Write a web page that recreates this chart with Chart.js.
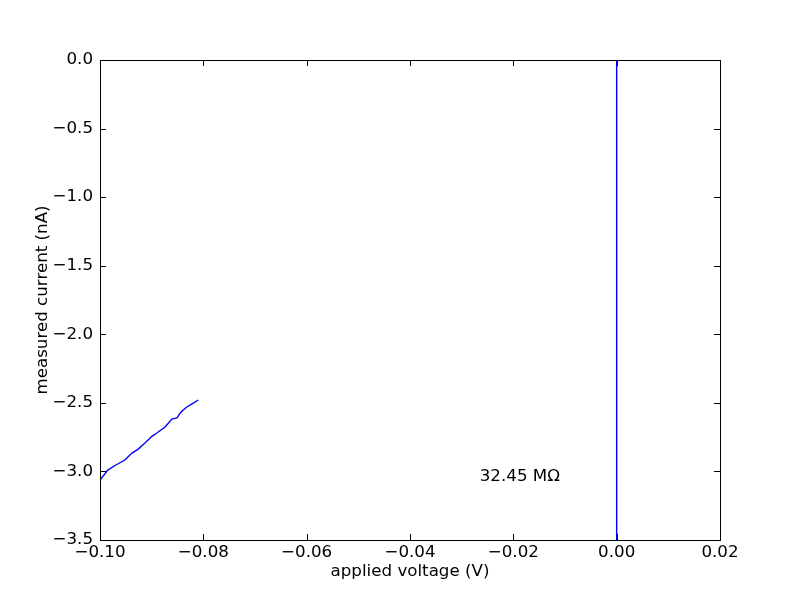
<!DOCTYPE html>
<html>
<head>
<meta charset="utf-8">
<script src="https://cdn.jsdelivr.net/npm/chart.js@4"></script>
<style>
  html, body { margin: 0; padding: 0; background: #fff; }
  #wrap { width: 800px; height: 600px; }
</style>
</head>
<body>
<div id="wrap"><canvas id="ivChart" width="800" height="600"></canvas></div>
<script>
'use strict';

// sweep (V, nA)
const sweepVoltage = [-0.1000, -0.0985, -0.0970, -0.0952, -0.0938, -0.0926, -0.0913,
  -0.0899, -0.0890, -0.0874, -0.0861, -0.0851, -0.0846, -0.0841, -0.0832, -0.0821, -0.0810];
const sweepCurrent = [-3.063, -2.990, -2.955, -2.917, -2.866, -2.837, -2.793,
  -2.742, -2.720, -2.676, -2.618, -2.610, -2.580, -2.559, -2.530, -2.505, -2.479];

// vertical trace at zero volts
const zeroVoltage = [0.0, 0.0];
const zeroCurrent = [0.0, -3.5];

const xTicks = [-0.10, -0.08, -0.06, -0.04, -0.02, 0.00, 0.02];
const yTicks = [0.0, -0.5, -1.0, -1.5, -2.0, -2.5, -3.0, -3.5];

const resistanceLabel = '32.45 MΩ';
const labelAt = { x: -0.0265, y: -3.07 };

const FONT = 'DejaVu Sans';
const FONT_SIZE = 16.7;

const toPoints = (xs, ys) => xs.map((x, i) => ({ x: x, y: ys[i] }));
const withMinus = (s) => s.replace('-', '\u2212');

// box with inward ticks on all four sides, plus the text label
const framePlugin = {
  id: 'frame',
  afterDatasetsDraw(chart) {
    const { ctx, chartArea: a, scales } = chart;
    const len = 6;
    ctx.save();
    ctx.strokeStyle = '#000';
    ctx.lineWidth = 1;
    ctx.beginPath();
    xTicks.forEach((v) => {
      const px = Math.round(scales.x.getPixelForValue(v)) + 0.5;
      ctx.moveTo(px, a.bottom); ctx.lineTo(px, a.bottom - len);
      ctx.moveTo(px, a.top); ctx.lineTo(px, a.top + len);
    });
    yTicks.forEach((v) => {
      const py = Math.round(scales.y.getPixelForValue(v)) + 0.5;
      ctx.moveTo(a.left, py); ctx.lineTo(a.left + len, py);
      ctx.moveTo(a.right, py); ctx.lineTo(a.right - len, py);
    });
    ctx.stroke();
    ctx.strokeRect(Math.round(a.left) + 0.5, Math.round(a.top) + 0.5,
      Math.round(a.right - a.left), Math.round(a.bottom - a.top));

    ctx.fillStyle = '#000';
    ctx.font = FONT_SIZE + 'px "' + FONT + '"';
    ctx.textAlign = 'left';
    ctx.textBaseline = 'alphabetic';
    ctx.fillText(resistanceLabel, scales.x.getPixelForValue(labelAt.x),
      scales.y.getPixelForValue(labelAt.y));
    ctx.restore();
  }
};

const ctx = document.getElementById('ivChart').getContext('2d');

const ivChart = new Chart(ctx, {
  type: 'scatter',
  data: {
    datasets: [{
      data: toPoints(sweepVoltage, sweepCurrent),
      showLine: true,
      borderColor: '#0000ff',
      borderWidth: 1.4,
      pointRadius: 0,
      tension: 0
    }, {
      data: toPoints(zeroVoltage, zeroCurrent),
      showLine: true,
      borderColor: '#0000ff',
      borderWidth: 1.4,
      pointRadius: 0
    }]
  },
  options: {
    responsive: false,
    animation: false,
    events: [],
    layout: { padding: { top: 60, right: 80, left: 0, bottom: 0 } },
    plugins: {
      legend: { display: false },
      tooltip: { enabled: false }
    },
    scales: {
      x: {
        type: 'linear',
        min: -0.10,
        max: 0.02,
        afterFit: (scale) => { scale.height = 60; },
        afterBuildTicks: (scale) => { scale.ticks = xTicks.map((v) => ({ value: v })); },
        grid: { display: false, drawTicks: false },
        border: { display: false },
        ticks: {
          padding: 3,
          color: '#000',
          font: { family: FONT, size: FONT_SIZE },
          maxRotation: 0,
          callback: (v) => withMinus(v.toFixed(2))
        },
        title: {
          display: true,
          text: 'applied voltage (V)',
          color: '#000',
          font: { family: FONT, size: FONT_SIZE },
          padding: { top: 0, bottom: 18 }
        }
      },
      y: {
        type: 'linear',
        min: -3.5,
        max: 0.0,
        afterFit: (scale) => { scale.width = 100; },
        afterBuildTicks: (scale) => { scale.ticks = yTicks.map((v) => ({ value: v })); },
        grid: { display: false, drawTicks: false },
        border: { display: false },
        ticks: {
          padding: 7,
          color: '#000',
          font: { family: FONT, size: FONT_SIZE },
          callback: (v) => withMinus(v.toFixed(1))
        },
        title: {
          display: true,
          text: 'measured current (nA)',
          color: '#000',
          font: { family: FONT, size: FONT_SIZE },
          padding: { top: 33, bottom: 0 }
        }
      }
    }
  },
  plugins: [framePlugin]
});
</script>
</body>
</html>
